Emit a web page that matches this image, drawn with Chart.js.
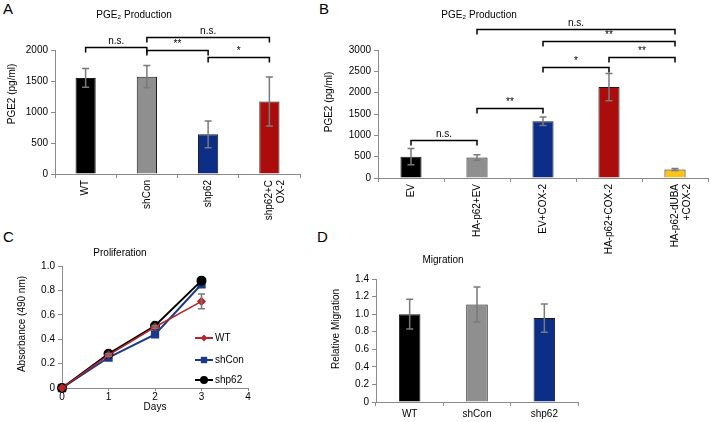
<!DOCTYPE html>
<html>
<head>
<meta charset="utf-8">
<script src="https://cdn.jsdelivr.net/npm/chart.js@4.4.0/dist/chart.umd.min.js"></script>
<style>
  body { margin: 0; background: #fff; width: 713px; height: 422px; position: relative; overflow: hidden;
         font-family: "Liberation Sans", Arial, sans-serif; }
  canvas { position: absolute; }
  .lt { position: absolute; font-size: 15px; line-height: 15px; color: #000; }
</style>
</head>
<body>
<div class="lt" style="left:3px;top:1px">A</div>
<div class="lt" style="left:319px;top:1px">B</div>
<div class="lt" style="left:3px;top:229px">C</div>
<div class="lt" style="left:317px;top:229px">D</div>
<canvas id="chartA" width="310" height="225" style="left:0;top:0"></canvas>
<canvas id="chartB" width="393" height="260" style="left:320px;top:0"></canvas>
<canvas id="chartC" width="300" height="197" style="left:0;top:225px"></canvas>
<canvas id="chartD" width="300" height="197" style="left:300px;top:225px"></canvas>
<script>
// A - PGE2 production
const catsA = ['WT', 'shCon', 'shp62', ['shp62+C', 'OX-2']];
const pgeA = [1550, 1570, 640, 1170];
const pgeAErr = [150, 180, 215, 395];
const sigA = [[0, 1, 2050, 'n.s.'], [1, 3, 2210, 'n.s.'], [1, 2, 2000, '**'], [2, 3, 1890, '*']];

// B - PGE2 production
const catsB = ['EV', 'HA-p62+EV', 'EV+COX-2', 'HA-p62+COX-2', ['HA-p62-dUBA', '+COX-2']];
const pgeB = [500, 480, 1330, 2130, 200];
const pgeBErr = [190, 65, 100, 320, 25];
const sigB = [[0, 1, 890, 'n.s.'], [1, 2, 1640, '**'], [2, 3, 2600, '*'], [3, 4, 2840, '**'], [2, 4, 3210, '**'], [1, 4, 3490, 'n.s.']];

// C - proliferation
const days = [0, 1, 2, 3];
const profWT = [0, 0.27, 0.50, 0.71];
const profWTErr = [0, 0.01, 0.01, 0.06];
const profShCon = [0, 0.25, 0.44, 0.85];
const profShp62 = [0, 0.28, 0.51, 0.88];

// D - migration
const catsD = ['WT', 'shCon', 'shp62'];
const migD = [1.0, 1.11, 0.955];
const migDErr = [0.17, 0.2, 0.16];

const colA = ['#000000', '#8f8f8f', '#0c2d88', '#ab0d0d'];
const colB = ['#000000', '#8f8f8f', '#0c2d88', '#ab0d0d', '#fcc419'];
const axisGray = '#8a8a8a';
const errGray = '#7a7a7a';

Chart.defaults.font.family = '"Liberation Sans", Arial, sans-serif';
Chart.defaults.font.size = 10;
Chart.defaults.color = '#000';

// error bars, significance brackets, free text and a small legend
function decor(cfg) {
  return {
    id: 'decor',
    afterDatasetsDraw(chart) {
      const ctx = chart.ctx, y = chart.scales.y;
      ctx.save();
      ctx.strokeStyle = errGray;
      ctx.lineWidth = 1.5;
      chart.data.datasets.forEach((ds, di) => {
        if (!ds.errors) return;
        chart.getDatasetMeta(di).data.forEach((el, i) => {
          const e = ds.errors[i];
          if (!e) return;
          const d = ds.data[i];
          const v = typeof d === 'object' ? d.y : d;
          const t = y.getPixelForValue(v + e), b = y.getPixelForValue(v - e);
          ctx.beginPath();
          ctx.moveTo(el.x, t); ctx.lineTo(el.x, b);
          ctx.moveTo(el.x - 3.5, t); ctx.lineTo(el.x + 3.5, t);
          ctx.moveTo(el.x - 3.5, b); ctx.lineTo(el.x + 3.5, b);
          ctx.stroke();
        });
      });
      ctx.restore();
    },
    afterDraw(chart) {
      const ctx = chart.ctx, x = chart.scales.x, y = chart.scales.y;
      ctx.save();
      ctx.fillStyle = '#000';
      ctx.strokeStyle = '#000';
      ctx.lineWidth = 1.5;
      ctx.font = '10px "Liberation Sans", Arial, sans-serif';
      ctx.textAlign = 'center';
      (cfg.brackets || []).forEach(b => {
        const x1 = x.getPixelForValue(b[0]), x2 = x.getPixelForValue(b[1]);
        const py = Math.round(y.getPixelForValue(b[2])) + 0.5;
        ctx.beginPath();
        ctx.moveTo(x1, py + 5); ctx.lineTo(x1, py); ctx.lineTo(x2, py); ctx.lineTo(x2, py + 5);
        ctx.stroke();
        ctx.textBaseline = 'alphabetic';
        ctx.fillText(b[3], (x1 + x2) / 2, py - 4);
      });
      ctx.textBaseline = 'middle';
      (cfg.texts || []).forEach(t => {
        ctx.save();
        ctx.translate(t.x, t.y);
        if (t.rot) ctx.rotate(-Math.PI / 2);
        ctx.fillText(t.text, 0, 0);
        ctx.restore();
      });
      if (cfg.legend) {
        const L = cfg.legend;
        ctx.textAlign = 'left';
        chart.data.datasets.forEach((ds, i) => {
          const ly = L.y[i];
          ctx.strokeStyle = ds.borderColor;
          ctx.lineWidth = 2;
          ctx.beginPath();
          ctx.moveTo(L.x, ly); ctx.lineTo(L.x + 18, ly);
          ctx.stroke();
          ctx.fillStyle = ds.pointBackgroundColor;
          Chart.helpers.drawPoint(ctx, { pointStyle: ds.pointStyle, radius: ds.pointRadius, borderWidth: 0 }, L.x + 9, ly);
          ctx.fillStyle = '#000';
          ctx.fillText(ds.label, L.x + 20, ly);
        });
      }
      ctx.restore();
    }
  };
}

function yAxis(width, max, step, fmt) {
  const ax = {
    min: 0, max: max,
    afterFit: s => { s.width = width; },
    grid: { drawOnChartArea: false, tickLength: 4, color: axisGray },
    border: { color: axisGray },
    ticks: { stepSize: step, padding: 3 }
  };
  if (fmt) ax.ticks.callback = v => String(v);
  return ax;
}

function xCat(height, rotate) {
  return {
    afterFit: s => { s.height = height; s.paddingLeft = 0; s.paddingRight = 0; },
    grid: { drawOnChartArea: false, tickLength: 4, color: axisGray },
    border: { color: axisGray },
    ticks: { maxRotation: rotate ? 90 : 0, minRotation: rotate ? 90 : 0, padding: 2, autoSkip: false }
  };
}

const base = {
  responsive: false,
  animation: false,
  events: [],
  plugins: { legend: { display: false }, tooltip: { enabled: false } }
};

new Chart(document.getElementById('chartA'), {
  type: 'bar',
  data: {
    labels: catsA,
    datasets: [{ data: pgeA, errors: pgeAErr, backgroundColor: colA, borderColor: '#1a1a1a', borderWidth: 1,
                 barPercentage: 0.33, categoryPercentage: 1 }]
  },
  options: Object.assign({}, base, {
    layout: { padding: { left: 0, right: 10, top: 50, bottom: 0 } },
    scales: { x: xCat(51, true), y: yAxis(55, 2000, 500, true) }
  }),
  plugins: [decor({
    brackets: sigA,
    texts: [{ text: 'PGE₂ Production', x: 134, y: 15 }, { text: 'PGE2 (pg/ml)', x: 12, y: 94, rot: true }]
  })]
});

new Chart(document.getElementById('chartB'), {
  type: 'bar',
  data: {
    labels: catsB,
    datasets: [{ data: pgeB, errors: pgeBErr, backgroundColor: colB, borderColor: '#1a1a1a', borderWidth: 1,
                 barPercentage: 0.32, categoryPercentage: 1 }]
  },
  options: Object.assign({}, base, {
    layout: { padding: { left: 0, right: 5, top: 50, bottom: 0 } },
    scales: { x: xCat(82, true), y: yAxis(58, 3000, 500, true) }
  }),
  plugins: [decor({
    brackets: sigB,
    texts: [{ text: 'PGE₂ Production', x: 159, y: 15 }, { text: 'PGE2 (pg/ml)', x: 9, y: 102, rot: true }]
  })]
});

const pts = vals => days.map((d, i) => ({ x: d, y: vals[i] }));

new Chart(document.getElementById('chartC'), {
  type: 'line',
  data: {
    datasets: [
      { label: 'WT', data: pts(profWT), errors: profWTErr, borderColor: '#b3262a', pointBackgroundColor: '#b3262a',
        pointBorderColor: '#b3262a', pointStyle: 'rectRot', pointRadius: 3.5, borderWidth: 1.5, order: 0, clip: false },
      { label: 'shCon', data: pts(profShCon), borderColor: '#1a3a8a', pointBackgroundColor: '#1a3a8a',
        pointBorderColor: '#1a3a8a', pointStyle: 'rect', pointRadius: 4.5, borderWidth: 2, order: 2, clip: false },
      { label: 'shp62', data: pts(profShp62), borderColor: '#000000', pointBackgroundColor: '#000000',
        pointBorderColor: '#000000', pointStyle: 'circle', pointRadius: 4, borderWidth: 2, order: 1, clip: false }
    ]
  },
  options: Object.assign({}, base, {
    layout: { padding: { left: 0, right: 52, top: 41, bottom: 0 } },
    scales: {
      x: {
        type: 'linear', min: 0, max: 4,
        afterFit: s => { s.height = 34; s.paddingLeft = 0; s.paddingRight = 0; },
        grid: { drawOnChartArea: false, tickLength: 3, color: axisGray },
        border: { color: axisGray },
        ticks: { stepSize: 1, padding: 0 }
      },
      y: yAxis(62, 1, 0.2, false)
    }
  }),
  plugins: [decor({
    texts: [{ text: 'Proliferation', x: 120, y: 28 }, { text: 'Days', x: 155, y: 182 },
            { text: 'Absorbance (490 nm)', x: 22, y: 99, rot: true }],
    legend: { x: 195, y: [113, 135, 155] }
  })]
});

new Chart(document.getElementById('chartD'), {
  type: 'bar',
  data: {
    labels: catsD,
    datasets: [{ data: migD, errors: migDErr, backgroundColor: ['#000000', '#8f8f8f', '#0c2d88'], borderColor: '#1a1a1a',
                 borderWidth: 1, barPercentage: 0.32, categoryPercentage: 1 }]
  },
  options: Object.assign({}, base, {
    layout: { padding: { left: 0, right: 22, top: 54, bottom: 0 } },
    scales: { x: xCat(20, false), y: yAxis(76, 1.4, 0.2, false) }
  }),
  plugins: [decor({
    texts: [{ text: 'Migration', x: 143, y: 35 }, { text: 'Relative Migration', x: 36, y: 104, rot: true }]
  })]
});
</script>
</body>
</html>
